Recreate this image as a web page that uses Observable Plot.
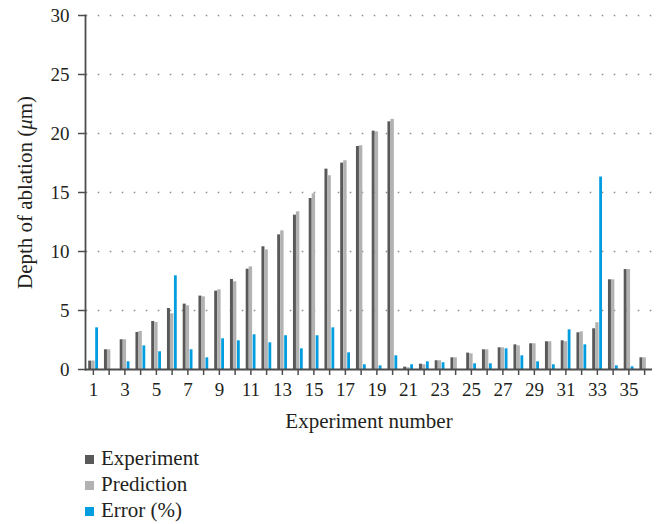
<!DOCTYPE html>
<html>
<head>
<meta charset="utf-8">
<script src="https://cdn.jsdelivr.net/npm/d3@7"></script>
<script src="https://cdn.jsdelivr.net/npm/@observablehq/plot@0.6"></script>
<style>
  body { margin: 0; background: #fff; }
  #chart { width: 661px; font-family: "Liberation Serif", serif; color: #231f20; }
  #chart svg text { font-family: "Liberation Serif", serif !important; font-size: 19px; }
  #chart svg g[aria-label="x-axis label"] text,
  #chart svg g[aria-label="y-axis label"] text { font-size: 21px; }
  .legend { margin-left: 85px; margin-top: 5px; font-size: 21px; }
  .legend .row { height: 26px; display: flex; align-items: center; }
  .legend .sw { width: 9px; height: 9px; margin-right: 7px; margin-top: 2px; }
</style>
</head>
<body>
<div id="chart"></div>
<script>
// Experiment numbers (categories on the x axis)
const experiments = [1, 2, 3, 4, 5, 6, 7, 8, 9, 10, 11, 12, 13, 14, 15, 16, 17, 18,
  19, 20, 21, 22, 23, 24, 25, 26, 27, 28, 29, 30, 31, 32, 33, 34, 35, 36];

// Measured depth of ablation (µm)
const experimentDepth = [0.71, 1.67, 2.52, 3.14, 4.07, 5.17, 5.54, 6.22, 6.64, 7.63, 8.5, 10.4,
  11.41, 13.08, 14.49, 16.98, 17.49, 18.9, 20.2, 20.99, 0.2, 0.45, 0.74, 0.99,
  1.39, 1.67, 1.84, 2.09, 2.18, 2.35, 2.43, 3.11, 3.45, 7.6, 8.47, 0.99];

// Predicted depth of ablation (µm)
const predictionDepth = [0.72, 1.67, 2.52, 3.22, 3.99, 4.72, 5.4, 6.16, 6.75, 7.43, 8.7, 10.14,
  11.75, 13.36, 14.89, 16.42, 17.69, 18.96, 20.14, 21.2, 0.15, 0.4, 0.74, 0.99,
  1.33, 1.67, 1.84, 2.0, 2.18, 2.35, 2.35, 3.19, 3.96, 7.6, 8.47, 0.99];

// Prediction error (%)
const errorPct = [3.53, 0, 0.65, 2.0, 1.5, 7.94, 1.67, 0.99, 2.6, 2.43, 2.94, 2.26,
  2.86, 1.75, 2.86, 3.53, 1.41, 0.4, 0.31, 1.16, 0.4, 0.65, 0.57, 0,
  0.48, 0.48, 1.75, 1.16, 0.65, 0.4, 3.36, 2.09, 16.31, 0.31, 0.23, 0];

const seriesNames = ["Experiment", "Prediction", "Error (%)"];
const seriesColors = ["#595959", "#b2b2b2", "#009ddf"];
const yTicks = [0, 5, 10, 15, 20, 25, 30];
const gridValues = [5, 10, 15, 20, 25, 30];

const rows = experiments.map((e, i) => ({
  exp: e,
  experiment: experimentDepth[i],
  prediction: predictionDepth[i],
  error: errorPct[i]
}));

const axisColor = "#4d4d4d";
const band = (661 - 85 - 9) / experiments.length;

const svg = Plot.plot({
  width: 661,
  height: 440,
  marginLeft: 85,
  marginRight: 9,
  marginTop: 15,
  marginBottom: 71,
  style: { fontFamily: "Liberation Serif, serif", fontSize: "19px", color: "#231f20", background: "#fff" },
  x: { domain: experiments, padding: 0, round: false },
  y: { domain: [0, 30] },
  marks: [
    // dotted horizontal grid
    Plot.ruleY(gridValues, { stroke: "#8f8f8f", strokeWidth: 1.6, strokeDasharray: "1.6 10.4", strokeDashoffset: -0.7 }),
    // grouped bars: experiment, prediction, error
    Plot.barY(rows, { x: "exp", y: "experiment", fill: seriesColors[0], insetLeft: 3.2, insetRight: band - 6.2 }),
    Plot.barY(rows, { x: "exp", y: "prediction", fill: seriesColors[1], insetLeft: 6.2, insetRight: band - 9.6 }),
    Plot.barY(rows, { x: "exp", y: "error", fill: seriesColors[2], insetLeft: 10.2, insetRight: band - 13 }),
    // axis lines
    Plot.ruleY([0], { stroke: axisColor, strokeWidth: 1.8 }),
    Plot.frame({ anchor: "left", stroke: axisColor, strokeWidth: 1.8 }),
    Plot.axisY({
      ticks: yTicks, tickSize: 7, tickPadding: 9, stroke: axisColor, strokeWidth: 1.5,
      label: "Depth of ablation (μm)", labelAnchor: "center", labelArrow: false, labelOffset: 68
    }),
    Plot.axisX({
      tickSize: 6, tickPadding: 7, stroke: axisColor, strokeWidth: 1.5,
      tickFormat: d => (d % 2 === 1 ? String(d) : null),
      label: "Experiment number", labelAnchor: "center", labelArrow: false, labelOffset: 58
    })
  ]
});

svg.setAttribute("font-family", "Liberation Serif, serif");

// italic mu in the y-axis title
const yLabel = svg.querySelector('g[aria-label="y-axis label"] text');
if (yLabel) {
  yLabel.textContent = "";
  const parts = [["Depth of ablation (", false], ["μ", true], ["m)", false]];
  for (const [t, it] of parts) {
    const ts = document.createElementNS("http://www.w3.org/2000/svg", "tspan");
    ts.textContent = t;
    if (it) ts.setAttribute("font-style", "italic");
    yLabel.appendChild(ts);
  }
}

const chart = document.getElementById("chart");
chart.appendChild(svg);

// legend below the plot
const legend = document.createElement("div");
legend.className = "legend";
seriesNames.forEach((name, i) => {
  const row = document.createElement("div");
  row.className = "row";
  const sw = document.createElement("span");
  sw.className = "sw";
  sw.style.background = seriesColors[i];
  const label = document.createElement("span");
  label.textContent = name;
  row.appendChild(sw);
  row.appendChild(label);
  legend.appendChild(row);
});
chart.appendChild(legend);
</script>
</body>
</html>
